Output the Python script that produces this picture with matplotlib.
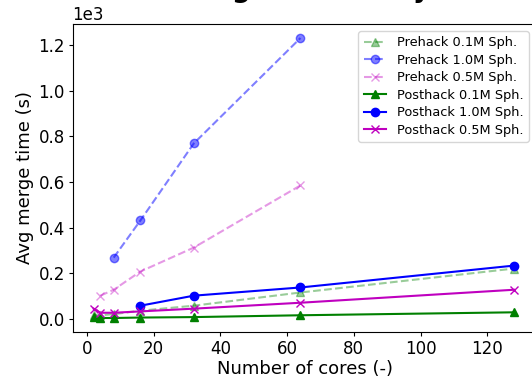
import matplotlib
matplotlib.use("Agg")
import matplotlib.pyplot as plt

cores = [2, 4, 8, 16, 32, 64, 128]

pre_01_x = [2, 4, 8, 16, 32, 64, 128]
pre_01_y = [15, 15, 20, 35, 57, 115, 220]
pre_10_x = [8, 16, 32, 64]
pre_10_y = [268, 431, 769, 1232]
pre_05_x = [4, 8, 16, 32, 64]
pre_05_y = [101, 127, 207, 312, 585]

post_01_x = [2, 4, 8, 16, 32, 64, 128]
post_01_y = [6, 3, 3, 5, 7, 15, 28]
post_10_x = [16, 32, 64, 128]
post_10_y = [57, 101, 137, 233]
post_05_x = [2, 4, 8, 16, 32, 64, 128]
post_05_y = [44, 26, 26, 32, 44, 70, 127]

labels = ["Prehack 0.1M Sph.", "Prehack 1.0M Sph.", "Prehack 0.5M Sph.",
          "Posthack 0.1M Sph.", "Posthack 1.0M Sph.", "Posthack 0.5M Sph."]

fig = plt.figure(figsize=(5.32, 3.86), dpi=100)
ax = fig.add_axes([72.5/532, 54/386, (537-72.5)/532, (332-24)/386])

ax.plot(pre_01_x, pre_01_y, '--', marker='^', color='g', alpha=0.4, label=labels[0])
ax.plot(pre_10_x, pre_10_y, '--', marker='o', color='b', alpha=0.5, label=labels[1])
ax.plot(pre_05_x, pre_05_y, '--', marker='x', color='m', alpha=0.4, label=labels[2])
ax.plot(post_01_x, post_01_y, '-', marker='^', color='g', label=labels[3])
ax.plot(post_10_x, post_10_y, '-', marker='o', color='b', label=labels[4])
ax.plot(post_05_x, post_05_y, '-', marker='x', color='m', label=labels[5])

ax.set_xlim(-4.35, 134.9)
ax.ticklabel_format(style='sci', axis='y', scilimits=(0, 0))
ax.tick_params(labelsize=12, length=3, pad=2.5)
ax.yaxis.get_offset_text().set_fontsize(12)
ax.set_xlabel("Number of cores (-)", fontsize=13, labelpad=2)
ax.set_ylabel("Avg merge time (s)", fontsize=13, labelpad=3)
ax.set_xticks([0, 20, 40, 60, 80, 100, 120])
ax.set_yticks([0, 200, 400, 600, 800, 1000, 1200])

ax.legend(loc='upper right', fontsize=9.3, labelspacing=0.35,
          handlelength=1.7, handletextpad=0.9, borderaxespad=0,
          bbox_to_anchor=(1 - 8/464.5, 1 - 7/308))

fig.text(303/532, 1.0 + 3/386, "Merge scalability", ha='center', va='baseline',
         fontsize=19, fontweight='bold')

fig.savefig("out.png", dpi=100)
